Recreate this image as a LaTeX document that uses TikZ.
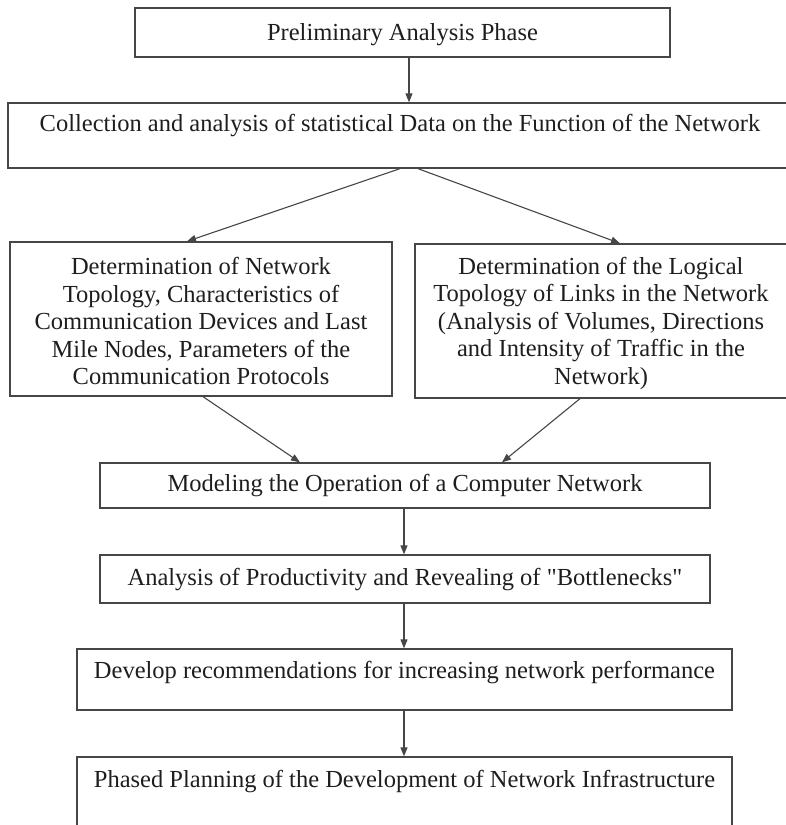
\documentclass[tikz,border=0pt]{standalone}
\usepackage{fontspec}
\setmainfont{Liberation Serif}[Ligatures=TeXOff]
\usetikzlibrary{arrows.meta}
\definecolor{edgegray}{RGB}{70,70,70}
\definecolor{inkgray}{RGB}{30,30,30}
\begin{document}
\begin{tikzpicture}[x=1pt,y=-1pt,
  box/.style={draw=edgegray, line width=1.3pt, inner sep=0pt},
  txt/.style={font=\fontsize{24.5}{27.5}\selectfont, text=inkgray, align=center, inner sep=0pt},
  arr/.style={draw=edgegray, line width=1.1pt, -{Triangle[length=9pt,width=7pt]}}]
  \useasboundingbox (0,0) rectangle (785,825);

  % process boxes
  \node[box, minimum width=535, minimum height=49] (b1) at (402.5,32.5) {};
  \node[box, minimum width=784, minimum height=65] (b2) at (400,135.5) {};
  \node[box, minimum width=382, minimum height=154] (b3) at (201,319) {};
  \node[box, minimum width=375, minimum height=154] (b4) at (602.5,321) {};
  \node[box, minimum width=610, minimum height=45] (b5) at (405,485.5) {};
  \node[box, minimum width=610, minimum height=48] (b6) at (405,579) {};
  \node[box, minimum width=655, minimum height=61] (b7) at (404.5,679.5) {};
  \node[box, minimum width=655, minimum height=83] (b8) at (404.5,798.5) {};

  % box texts
  \node[txt] (t1) at (402.5,34.5) {Preliminary Analysis Phase};
  \node[txt] (t2) at (400,125.5) {Collection and analysis of statistical Data on the Function of the Network};
  \node[txt] (t3) at (201,321) {Determination of Network\\Topology, Characteristics of\\Communication Devices and Last\\Mile Nodes, Parameters of the\\Communication Protocols};
  \node[txt] (t4) at (601,323) {Determination of the Logical\\Topology of Links in the Network\\(Analysis of Volumes, Directions\\and Intensity of Traffic in the\\Network)};
  \node[txt] (t5) at (405,485.5) {Modeling the Operation of a Computer Network};
  \node[txt] (t6) at (405,579.5) {Analysis of Productivity and Revealing of "Bottlenecks"};
  \node[txt] (t7) at (404.5,672.5) {Develop recommendations for increasing network performance};
  \node[txt] (t8) at (404.5,781.5) {Phased Planning of the Development of Network Infrastructure};

  % connectors
  \draw[arr] ([xshift=6.5]b1.south) -- ([xshift=9]b2.north);
  \draw[arr] (b2.south) -- ([xshift=-14]b3.north);
  \draw[arr] ([xshift=18]b2.south) -- ([xshift=17.5]b4.north);
  \draw[arr] ([xshift=2]b3.south) -- ([xshift=-105]b5.north);
  \draw[arr] ([xshift=-22.5]b4.south) -- ([xshift=97]b5.north);
  \draw[arr] ([xshift=-1]b5.south) -- ([xshift=-1]b6.north);
  \draw[arr] ([xshift=-1]b6.south) -- ([xshift=-0.5]b7.north);
  \draw[arr] ([xshift=-0.5]b7.south) -- ([xshift=-0.5]b8.north);
\end{tikzpicture}
\end{document}
